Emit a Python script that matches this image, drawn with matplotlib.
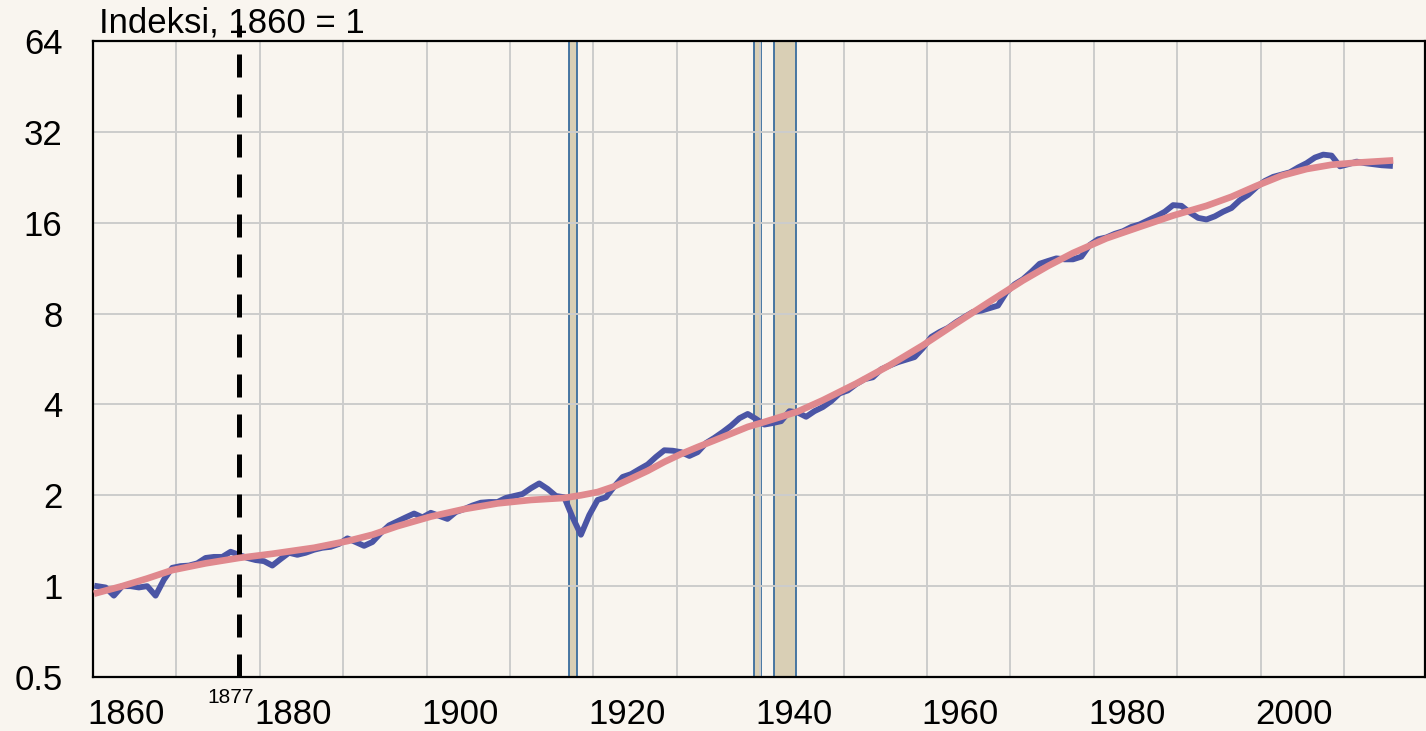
import matplotlib

matplotlib.use("Agg")
import matplotlib.pyplot as plt
from matplotlib.ticker import FixedLocator, NullFormatter

plt.rcParams["font.family"] = ["Liberation Sans", "DejaVu Sans"]

# ---- data (index, 1860 = 1) ----
years = list(range(1860, 2016))
gdp_index = [
    1.00, 0.99, 0.93, 1.00, 1.00, 0.99, 1.00, 0.93, 1.05, 1.15,   # 1860-1869
    1.165, 1.17, 1.19, 1.24, 1.25, 1.25, 1.30, 1.27, 1.24, 1.22,  # 1870-1879
    1.21, 1.17, 1.23, 1.29, 1.27, 1.29, 1.32, 1.34, 1.35, 1.38,   # 1880-1889
    1.44, 1.40, 1.36, 1.40, 1.50, 1.59, 1.64, 1.69, 1.74, 1.69,   # 1890-1899
    1.75, 1.71, 1.67, 1.76, 1.80, 1.85, 1.89, 1.90, 1.90, 1.96,   # 1900-1909
    1.99, 2.02, 2.11, 2.19, 2.10, 1.99, 1.97, 1.69, 1.48, 1.72,   # 1910-1919
    1.93, 1.97, 2.14, 2.30, 2.35, 2.44, 2.53, 2.68, 2.82, 2.81,   # 1920-1929
    2.78, 2.70, 2.78, 2.98, 3.10, 3.24, 3.40, 3.60, 3.72, 3.58,   # 1930-1939
    3.43, 3.47, 3.52, 3.80, 3.76, 3.64, 3.80, 3.92, 4.10, 4.35,   # 1940-1949
    4.45, 4.67, 4.85, 4.92, 5.23, 5.38, 5.52, 5.63, 5.74, 6.15,   # 1950-1959
    6.69, 6.95, 7.17, 7.50, 7.80, 8.10, 8.18, 8.34, 8.50, 9.40,   # 1960-1969
    10.0, 10.4, 11.0, 11.7, 11.95, 12.19, 12.1, 12.1, 12.35, 13.5,  # 1970-1979
    14.1, 14.3, 14.7, 15.0, 15.5, 15.8, 16.3, 16.8, 17.4, 18.3,   # 1980-1989
    18.2, 17.3, 16.6, 16.4, 16.8, 17.4, 17.9, 19.0, 19.8, 21.0,   # 1990-1999
    22.0, 22.7, 23.1, 23.5, 24.4, 25.2, 26.3, 26.9, 26.7, 24.6,   # 2000-2009
    25.0, 25.5, 25.2, 25.0, 24.8, 24.7,                           # 2010-2015
]

trend_years = [1860, 1863, 1866, 1869, 1873, 1877, 1881, 1886, 1890, 1893,
               1896, 1900, 1904, 1908, 1912, 1916, 1918, 1920, 1922, 1924,
               1926, 1928, 1930, 1932, 1934, 1936, 1938, 1940, 1942, 1944,
               1947, 1951, 1955, 1959, 1963, 1967, 1971, 1974, 1977, 1981,
               1985, 1989, 1993, 1996, 1999, 2002, 2005, 2008, 2011, 2015]
trend_index = [0.95, 1.00, 1.06, 1.13, 1.19, 1.24, 1.28, 1.34, 1.41, 1.48,
               1.58, 1.70, 1.80, 1.88, 1.93, 1.96, 2.00, 2.05, 2.14, 2.27,
               2.41, 2.58, 2.74, 2.89, 3.04, 3.20, 3.37, 3.50, 3.64, 3.79,
               4.13, 4.69, 5.39, 6.28, 7.43, 8.76, 10.3, 11.5, 12.7, 14.2,
               15.5, 16.9, 18.2, 19.5, 21.2, 22.9, 24.1, 24.9, 25.3, 25.7]

# sodat (varjostetut palkit)
war_spans = [(1916.6, 1917.5), (1938.8, 1939.6), (1941.2, 1943.8)]
marker_year = 1877

y_ticks = [0.5, 1, 2, 4, 8, 16, 32, 64]
y_labels = ["0.5", "1", "2", "4", "8", "16", "32", "64"]
x_label_years = [1860, 1880, 1900, 1920, 1940, 1960, 1980, 2000]

BG = "#F9F5EF"
FS = 25

fig = plt.figure(figsize=(14.26, 7.31), dpi=100)
fig.patch.set_facecolor(BG)
ax = fig.add_axes([93 / 1426, 54 / 731, 1332 / 1426, 636 / 731])
ax.set_facecolor(BG)

ax.set_yscale("log", base=2)
ax.set_ylim(0.5, 64)
ax.set_xlim(1859.5, 2019.2)

# pystysuorat ruudukkoviivat kategorioiden rajoilla, vuosiluvut hieman oikealle
ax.xaxis.set_major_locator(FixedLocator([1859.5 + 10 * k for k in range(1, 16)]))
ax.xaxis.set_major_formatter(NullFormatter())
ax.xaxis.set_minor_locator(FixedLocator([y + 3.5 for y in x_label_years]))
ax.set_xticklabels([str(y) for y in x_label_years], minor=True)
ax.yaxis.set_major_locator(FixedLocator(y_ticks))
ax.set_yticklabels(y_labels)
ax.yaxis.set_minor_formatter(NullFormatter())
ax.yaxis.set_minor_locator(FixedLocator([]))

ax.tick_params(axis="x", which="both", length=0, labelsize=FS, pad=15)
ax.tick_params(axis="y", which="both", length=0, labelsize=FS, pad=22)
ax.grid(True, which="major", color="#CCCCCC", linewidth=1.4)

for s in ax.spines.values():
    s.set_color("black")
    s.set_linewidth(1.6)

for a, b in war_spans:
    ax.axvspan(a, b, facecolor="#D9CFB5", edgecolor="#3A6D9E", linewidth=1.3, zorder=1)

ax.plot(years, gdp_index, color="#4B55A5", linewidth=4.2, solid_joinstyle="round", zorder=3)
ax.plot([marker_year, marker_year], [0.5, 72.5], color="black", linewidth=3.6,
        linestyle=(0, (4.6, 3.4)), clip_on=False, zorder=3.5)
ax.plot(trend_years, trend_index, color="#E0898E", linewidth=4.8, zorder=4)

ax.text(1860.2, 1.013, "Indeksi, 1860 = 1", transform=ax.get_xaxis_transform(),
        ha="left", va="baseline", fontsize=FS)
ax.text(marker_year - 1.0, -0.032, str(marker_year), transform=ax.get_xaxis_transform(),
        ha="center", va="center", fontsize=15)

fig.savefig("out.png", dpi=100, facecolor=BG)
